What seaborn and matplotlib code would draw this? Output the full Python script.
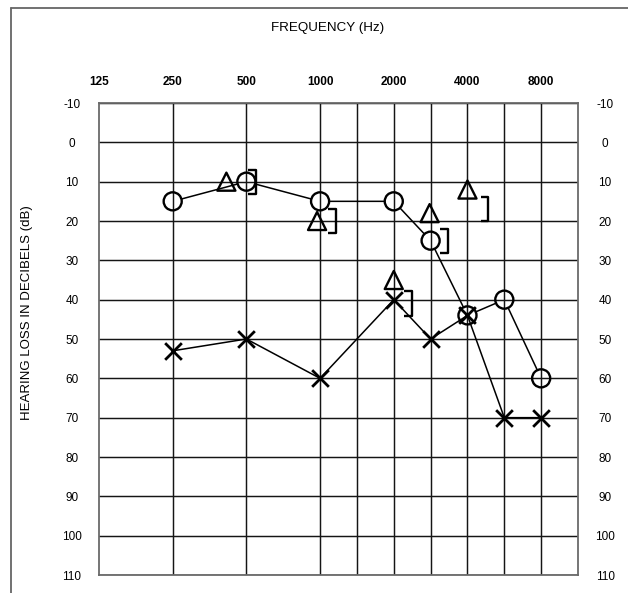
import numpy as np
import matplotlib
matplotlib.use("Agg")
import matplotlib.pyplot as plt
from matplotlib.path import Path
from matplotlib.markers import MarkerStyle
from matplotlib.lines import Line2D
from matplotlib.ticker import FixedLocator, NullFormatter
from matplotlib.transforms import offset_copy
import seaborn as sns

# ---- axis definitions -------------------------------------------------------
octave_freqs = [125, 250, 500, 1000, 2000, 4000, 8000]
octave_labels = ["125", "250", "500", "1000", "2000", "4000", "8000"]
grid_freqs = [250, 500, 1000, 1500, 2000, 3000, 4000, 6000, 8000]
db_ticks = list(range(-10, 111, 10))

# ---- thresholds (dB HL) ----------------------------------------------------
freq_air = [250, 500, 1000, 2000, 3000, 4000, 6000, 8000]
right_air = [15, 10, 15, 15, 25, 44, 40, 60]      # O symbols
left_air = [53, 50, 60, 40, 50, 44, 70, 70]       # X symbols

freq_tri = [500, 1000, 2000, 3000, 4000]
tri_db = [10, 20, 35, 18, 12]                     # triangle symbols

freq_bracket = [500, 1000, 2000, 3000, 4000]
bracket_db = [10, 20, 41, 25, 17]                 # "]" symbols

# symbol nudges (pixels) so neighbouring symbols stay legible
tri_nudge = [-20, -3, 0, -1, 0]
bracket_nudge = [10, 16, 18, 17, 21]

# ---- audiogram frequency scale: octaves, with half-octave inter-octave lines
knot_f = np.array([125, 250, 500, 1000, 1500, 2000, 3000, 4000, 6000, 8000, 12000], float)
knot_p = np.array([0, 1, 2, 3, 3.5, 4, 4.5, 5, 5.5, 6, 6.5])
knot_l = np.log2(knot_f)


def freq_to_pos(f):
    lg = np.log2(np.clip(np.asarray(f, float), 1e-9, None))
    p = np.interp(lg, knot_l, knot_p)
    p = np.where(lg < knot_l[0], lg - knot_l[0], p)
    p = np.where(lg > knot_l[-1], knot_p[-1] + lg - knot_l[-1], p)
    return p


def pos_to_freq(p):
    p = np.asarray(p, float)
    lg = np.interp(p, knot_p, knot_l)
    lg = np.where(p < 0, knot_l[0] + p, lg)
    lg = np.where(p > knot_p[-1], knot_l[-1] + p - knot_p[-1], lg)
    return 2.0 ** lg


sns.set_style("white")
plt.rcParams["font.family"] = ["Liberation Sans", "DejaVu Sans"]
plt.rcParams["text.color"] = "black"
plt.rcParams["xtick.color"] = "black"
plt.rcParams["ytick.color"] = "black"
plt.rcParams["xtick.labelcolor"] = "black"
plt.rcParams["ytick.labelcolor"] = "black"

W, H = 628, 593
fig = plt.figure(figsize=(W / 100, H / 100), dpi=100)
ax = fig.add_axes([99 / W, 1 - 575 / H, (578 - 99) / W, (575 - 103) / H])

ax.set_xscale("function", functions=(freq_to_pos, pos_to_freq))
ax.set_xlim(125, 12000)
ax.set_ylim(110, -10)

# grid
ax.xaxis.set_major_locator(FixedLocator(octave_freqs))
ax.set_xticklabels(octave_labels)
ax.xaxis.set_minor_locator(FixedLocator(grid_freqs))
ax.xaxis.set_minor_formatter(NullFormatter())
ax.xaxis.remove_overlapping_locs = False
ax.set_yticks(db_ticks)
ax.set_yticklabels([str(v) for v in db_ticks])
ax.grid(False)
ax.xaxis.grid(True, which="minor", color="#151515", lw=1.05)
ax.yaxis.grid(True, which="major", color="#151515", lw=1.05)
ax.set_axisbelow(True)

ax.xaxis.tick_top()
ax.tick_params(axis="x", which="both", length=0, pad=11, labelsize=8.5,
               labeltop=True, labelbottom=False, labelcolor="black")
ax.tick_params(axis="y", which="both", length=0, pad=19.5, labelsize=8.5,
               left=True, right=True, labelleft=True, labelright=True,
               labelcolor="black")
for lab in ax.get_xticklabels():
    lab.set_fontweight("bold")
for tk in ax.yaxis.get_major_ticks():
    tk.label1.set_horizontalalignment("center")
    tk.label2.set_horizontalalignment("center")

for sp in ax.spines.values():
    sp.set_visible(True)
    sp.set_color("#6a6a6a")
    sp.set_linewidth(1.3)


# connecting lines between thresholds (stop at circle edges)
def connect(xs, ys, shrink):
    for x0, y0, x1, y1 in zip(xs[:-1], ys[:-1], xs[1:], ys[1:]):
        ax.annotate("", xy=(x1, y1), xytext=(x0, y0), xycoords="data",
                    arrowprops=dict(arrowstyle="-", color="black", lw=1.1,
                                    shrinkA=shrink, shrinkB=shrink),
                    zorder=3)


connect(freq_air, right_air, 6.7)
connect(freq_air, left_air, 0)

# symbols
sns.scatterplot(x=freq_air, y=right_air, marker="o", s=13 ** 2, color="black",
                facecolor="none", edgecolor="black", linewidth=1.7, ax=ax, zorder=4)
sns.scatterplot(x=freq_air, y=left_air, marker="x", s=12 ** 2, color="black",
                linewidth=2.0, ax=ax, zorder=4)

for f, d, dx in zip(freq_tri, tri_db, tri_nudge):
    tr = offset_copy(ax.transData, fig=fig, x=dx, y=0, units="dots")
    sns.scatterplot(x=[f], y=[d], marker="^", s=13 ** 2, color="black",
                    facecolor="none", edgecolor="black", linewidth=1.7,
                    ax=ax, zorder=4, transform=tr)

bracket = MarkerStyle(Path([(-0.65, 1.0), (0.0, 1.0), (0.0, -1.0), (-0.65, -1.0)]),
                      joinstyle="round")
for f, d, dx in zip(freq_bracket, bracket_db, bracket_nudge):
    tr = offset_copy(ax.transData, fig=fig, x=dx, y=0, units="dots")
    sns.scatterplot(x=[f], y=[d], marker=bracket, s=17.5 ** 2, color="black",
                    facecolor="none", edgecolor="black", linewidth=1.7,
                    ax=ax, zorder=4, transform=tr)

ax.set_xlabel("")
ax.set_ylabel("")

# titles
fig.text(328 / W, 1 - 28 / H, "FREQUENCY (Hz)", ha="center", va="center",
         fontsize=9.6, color="black")
fig.text(27 / W, 1 - 313 / H, "HEARING LOSS IN DECIBELS (dB)", rotation=90,
         ha="center", va="center", fontsize=9.5, color="black")

# page border
fig.add_artist(Line2D([10.5 / W, 10.5 / W], [1 - 8 / H, 0], transform=fig.transFigure,
                      color="#666666", lw=1.3))
fig.add_artist(Line2D([10.5 / W, 1], [1 - 8 / H, 1 - 8 / H], transform=fig.transFigure,
                      color="#666666", lw=1.3))

fig.savefig("out.png", dpi=100, facecolor="white")
